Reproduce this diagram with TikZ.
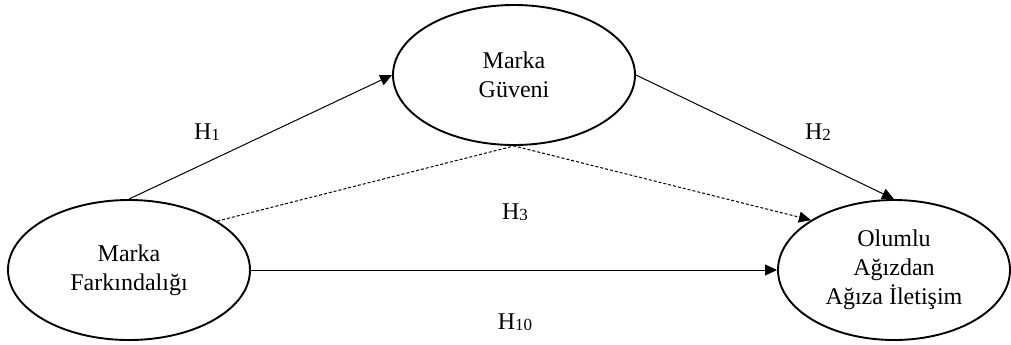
\documentclass[tikz,border=0pt]{standalone}
\usepackage{fontspec}
\setmainfont{Liberation Serif}
\usetikzlibrary{shapes.geometric,arrows.meta}
\newcommand\hlab[1]{H\raisebox{-0.7pt}{\fontsize{8.5}{8.5}\selectfont #1}}
\begin{document}
\begin{tikzpicture}[x=0.5pt,y=-0.5pt,
  var/.style={ellipse,draw,line width=0.95pt,align=center,inner sep=0pt,font=\fontsize{12}{14.5}\selectfont},
  conn/.style={line width=0.5pt,-{Triangle[length=6pt,width=5.5pt]}},
  lab/.style={font=\fontsize{12}{14}\selectfont,inner sep=0pt}]
\useasboundingbox (0,0) rectangle (1011,344);
\node[var,minimum width=121pt,minimum height=70pt] (guv) at (514,75) {Marka\\Güveni};
\node[var,minimum width=121pt,minimum height=70pt] (fark) at (129,270) {Marka\\Farkındalığı};
\node[var,minimum width=116pt,minimum height=70pt] (olu) at (894,270) {Olumlu\\Ağızdan\\Ağıza İletişim};
\draw[conn] (fark.north) -- (guv.west);
\draw[conn] (guv.east) -- (olu.north);
\draw[conn,dash pattern=on 1.5pt off 1pt] (fark.29) -- (guv.south) -- (olu.149);
\draw[conn] (fark.east) -- (olu.west);
\node[lab] (h1) at (207,132) {\hlab{1}};
\node[lab] (h2) at (818,132) {\hlab{2}};
\node[lab] (h3) at (515,212) {\hlab{3}};
\node[lab] (h10) at (515,322) {\hlab{10}};
\end{tikzpicture}
\end{document}
